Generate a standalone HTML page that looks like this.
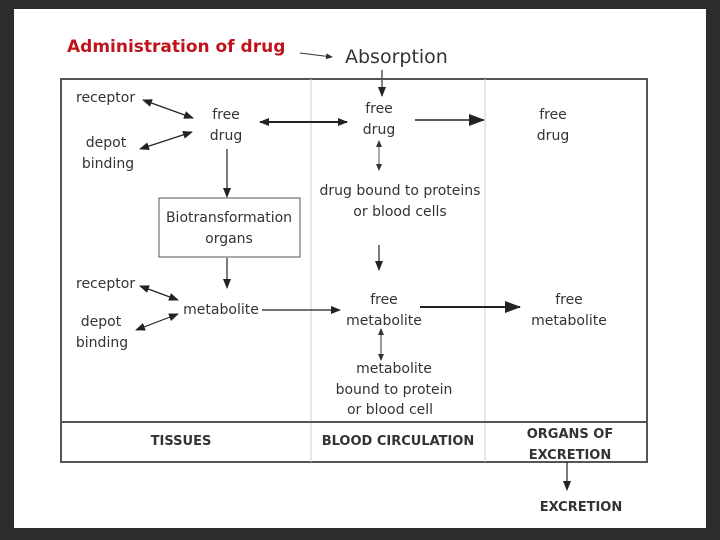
<!DOCTYPE html>
<html><head><style>
html,body{margin:0;padding:0;background:#2a2c2e;width:720px;height:540px;overflow:hidden}
svg{display:block}
text{font-family:"DejaVu Sans","Liberation Sans",sans-serif;fill:#333;font-size:14px}
</style></head><body>
<svg width="720" height="540" viewBox="0 0 720 540">
<defs>
<marker id="a" markerWidth="10" markerHeight="8" refX="9" refY="4" orient="auto-start-reverse" markerUnits="userSpaceOnUse"><path d="M0,0 L10,4 L0,8 z" fill="#222"/></marker>
<marker id="b" markerWidth="16" markerHeight="12" refX="15" refY="6" orient="auto-start-reverse" markerUnits="userSpaceOnUse"><path d="M0,0 L16,6 L0,12 z" fill="#222"/></marker>
<marker id="s" markerWidth="7" markerHeight="6" refX="6" refY="3" orient="auto-start-reverse" markerUnits="userSpaceOnUse"><path d="M0,0 L7,3 L0,6 z" fill="#333"/></marker>
</defs>
<rect x="14" y="9" width="692" height="519" fill="#fff"/>
<text x="67" y="52" style="font-size:17px;font-weight:bold;fill:#c0141c">Administration of drug</text>
<line x1="300" y1="53" x2="332" y2="57" stroke="#333" stroke-width="1" marker-end="url(#s)"/>
<text x="345" y="63" style="font-size:19px">Absorption</text>
<line x1="382" y1="70" x2="382" y2="96" stroke="#333" stroke-width="1.2" marker-end="url(#a)"/>
<!-- outer box -->
<rect x="61" y="79" width="586" height="383" fill="none" stroke="#555" stroke-width="2"/>
<line x1="311" y1="79" x2="311" y2="462" stroke="#ccc" stroke-width="1"/>
<line x1="485" y1="79" x2="485" y2="462" stroke="#ccc" stroke-width="1"/>
<line x1="61" y1="422" x2="647" y2="422" stroke="#555" stroke-width="2"/>
<rect x="159" y="198" width="141" height="59" fill="#fff" stroke="#555" stroke-width="1"/>
<text x="229" y="222" text-anchor="middle">Biotransformation</text>
<text x="229" y="243" text-anchor="middle">organs</text>
<rect x="313" y="175" width="170" height="55" fill="#fff"/>
<!-- tissues -->
<text x="76" y="102">receptor</text>
<text x="106" y="147" text-anchor="middle">depot</text>
<text x="108" y="168" text-anchor="middle">binding</text>
<text x="226" y="119" text-anchor="middle">free</text>
<text x="226" y="140" text-anchor="middle">drug</text>
<line x1="143" y1="100" x2="193" y2="118" stroke="#222" stroke-width="1.2" marker-start="url(#a)" marker-end="url(#a)"/>
<line x1="140" y1="149" x2="192" y2="132" stroke="#222" stroke-width="1.2" marker-start="url(#a)" marker-end="url(#a)"/>
<line x1="227" y1="149" x2="227" y2="197" stroke="#222" stroke-width="1.2" marker-end="url(#a)"/>
<line x1="227" y1="258" x2="227" y2="288" stroke="#222" stroke-width="1.2" marker-end="url(#a)"/>
<line x1="260" y1="122" x2="347" y2="122" stroke="#222" stroke-width="2" marker-start="url(#a)" marker-end="url(#a)"/>
<text x="76" y="288">receptor</text>
<text x="101" y="326" text-anchor="middle">depot</text>
<text x="102" y="347" text-anchor="middle">binding</text>
<text x="221" y="314" text-anchor="middle">metabolite</text>
<line x1="140" y1="286" x2="178" y2="300" stroke="#222" stroke-width="1.2" marker-start="url(#a)" marker-end="url(#a)"/>
<line x1="136" y1="330" x2="178" y2="314" stroke="#222" stroke-width="1.2" marker-start="url(#a)" marker-end="url(#a)"/>
<line x1="262" y1="310" x2="340" y2="310" stroke="#222" stroke-width="1.2" marker-end="url(#a)"/>
<!-- blood -->
<text x="379" y="113" text-anchor="middle">free</text>
<text x="379" y="134" text-anchor="middle">drug</text>
<line x1="379" y1="141" x2="379" y2="170" stroke="#555" stroke-width="1" marker-start="url(#s)" marker-end="url(#s)"/>
<text x="400" y="195" text-anchor="middle">drug bound to proteins</text>
<text x="400" y="216" text-anchor="middle">or blood cells</text>
<line x1="379" y1="245" x2="379" y2="270" stroke="#222" stroke-width="1.2" marker-end="url(#a)"/>
<line x1="415" y1="120" x2="484" y2="120" stroke="#222" stroke-width="1.5" marker-end="url(#b)"/>
<text x="384" y="304" text-anchor="middle">free</text>
<text x="384" y="325" text-anchor="middle">metabolite</text>
<line x1="420" y1="307" x2="520" y2="307" stroke="#222" stroke-width="2" marker-end="url(#b)"/>
<line x1="381" y1="329" x2="381" y2="360" stroke="#777" stroke-width="1.5" marker-start="url(#s)" marker-end="url(#s)"/>
<text x="394" y="373" text-anchor="middle">metabolite</text>
<text x="394" y="394" text-anchor="middle">bound to protein</text>
<text x="390" y="414" text-anchor="middle">or blood cell</text>
<!-- excretion -->
<text x="553" y="119" text-anchor="middle">free</text>
<text x="553" y="140" text-anchor="middle">drug</text>
<text x="569" y="304" text-anchor="middle">free</text>
<text x="569" y="325" text-anchor="middle">metabolite</text>
<text x="181" y="445" text-anchor="middle" style="font-weight:bold;font-size:13px">TISSUES</text>
<text x="398" y="445" text-anchor="middle" style="font-weight:bold;font-size:13px">BLOOD CIRCULATION</text>
<text x="570" y="438" text-anchor="middle" style="font-weight:bold;font-size:13px">ORGANS OF</text>
<text x="570" y="459" text-anchor="middle" style="font-weight:bold;font-size:13px">EXCRETION</text>
<line x1="567" y1="462" x2="567" y2="490" stroke="#222" stroke-width="1.2" marker-end="url(#a)"/>
<text x="581" y="511" text-anchor="middle" style="font-weight:bold;font-size:13px">EXCRETION</text>
</svg>
</body></html>
